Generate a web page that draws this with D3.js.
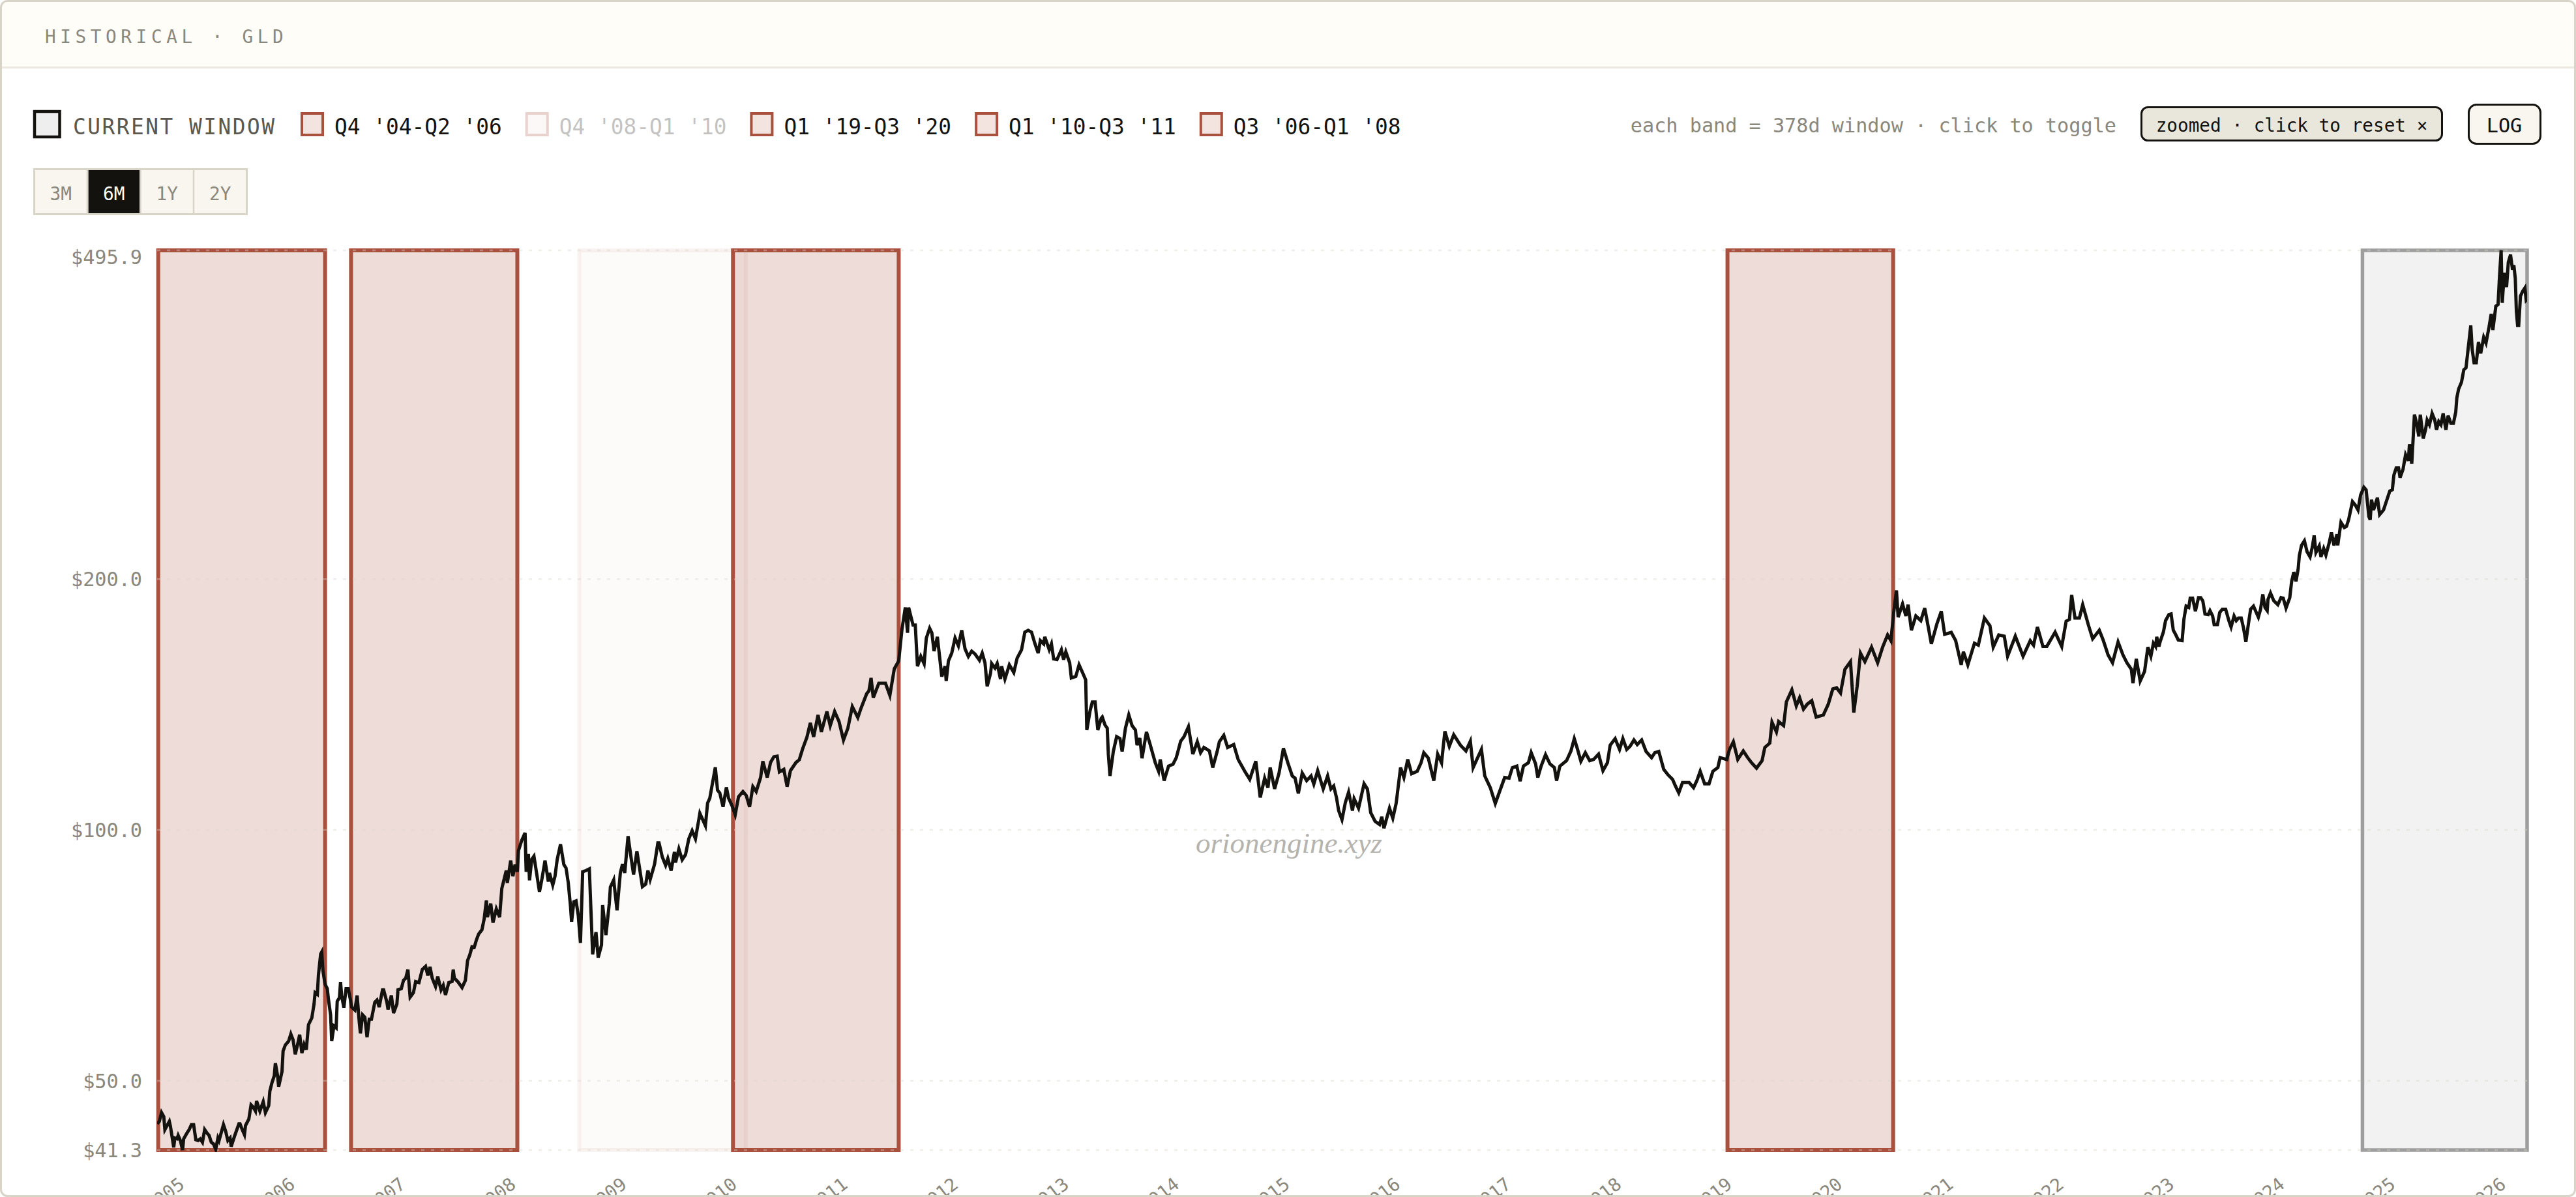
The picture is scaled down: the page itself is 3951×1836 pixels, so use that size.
<!DOCTYPE html>
<html lang="en">
<head>
  <meta charset="UTF-8">
  <title>Historical GLD</title>
  <script src="https://d3js.org/d3.v7.min.js"></script>
  <style>
    html, body { margin: 0; padding: 0; background: #fff; }
    svg { display: block; }
    text { font-family: "DejaVu Sans Mono", monospace; }
    .axis .domain, .axis line { display: none; }
  </style>
</head>
<body>
  <svg id="chart" width="3951" height="1836"></svg>
  <script>
    // dates are decimal years, closes are dollars
    const dates = [
      2004.88,2004.90,2004.92,2004.94,2004.95,2004.97,2004.99,2005.00,2005.03,2005.04,2005.06,2005.07,2005.09,2005.11,2005.12,2005.15,2005.17,2005.19,2005.21,2005.23,
      2005.25,2005.27,2005.29,2005.31,2005.33,2005.35,2005.37,2005.39,2005.41,2005.43,2005.44,2005.48,2005.50,2005.52,2005.54,2005.55,2005.58,2005.62,2005.63,2005.65,
      2005.67,2005.68,2005.71,2005.73,2005.75,2005.77,2005.78,2005.81,2005.84,2005.86,2005.89,2005.90,2005.92,2005.94,2005.95,2005.97,2005.98,2006.01,2006.02,2006.04,
      2006.07,2006.09,2006.11,2006.13,2006.15,2006.17,2006.19,2006.21,2006.23,2006.25,2006.28,2006.30,2006.31,2006.33,2006.34,2006.36,2006.37,2006.38,2006.40,2006.42,
      2006.43,2006.45,2006.46,2006.48,2006.50,2006.51,2006.53,2006.54,2006.55,2006.57,2006.59,2006.61,2006.63,2006.64,2006.67,2006.69,2006.71,2006.72,2006.74,2006.76,
      2006.78,2006.80,2006.82,2006.85,2006.87,2006.89,2006.92,2006.93,2006.96,2006.97,2007.00,2007.02,2007.05,2007.06,2007.09,2007.11,2007.13,2007.15,2007.17,2007.20,
      2007.22,2007.25,2007.28,2007.31,2007.33,2007.35,2007.37,2007.40,2007.42,2007.45,2007.47,2007.49,2007.52,2007.55,2007.56,2007.57,2007.60,2007.64,2007.67,2007.69,
      2007.71,2007.73,2007.75,2007.77,2007.79,2007.82,2007.84,2007.86,2007.87,2007.90,2007.92,2007.95,2007.98,2008.00,2008.04,2008.05,2008.08,2008.10,2008.12,2008.14,
      2008.15,2008.18,2008.21,2008.22,2008.24,2008.25,2008.27,2008.29,2008.32,2008.34,2008.36,2008.39,2008.42,2008.43,2008.46,2008.48,2008.50,2008.53,2008.56,2008.58,
      2008.60,2008.62,2008.63,2008.65,2008.67,2008.69,2008.71,2008.73,2008.76,2008.79,2008.82,2008.85,2008.87,2008.90,2008.91,2008.94,2008.97,2008.98,2009.01,2009.04,
      2009.07,2009.09,2009.11,2009.14,2009.17,2009.19,2009.22,2009.24,2009.27,2009.30,2009.32,2009.34,2009.38,2009.41,2009.42,2009.45,2009.48,2009.50,2009.53,2009.56,
      2009.57,2009.60,2009.63,2009.66,2009.69,2009.72,2009.75,2009.78,2009.79,2009.84,2009.86,2009.88,2009.93,2009.95,2009.97,2010.00,2010.03,2010.05,2010.08,2010.11,
      2010.14,2010.18,2010.21,2010.24,2010.27,2010.30,2010.34,2010.36,2010.40,2010.43,2010.46,2010.49,2010.51,2010.55,2010.58,2010.61,2010.66,2010.69,2010.72,2010.76,
      2010.79,2010.82,2010.86,2010.89,2010.94,2010.97,2011.01,2011.05,2011.09,2011.13,2011.17,2011.22,2011.25,2011.30,2011.32,2011.34,2011.36,2011.41,2011.47,2011.51,
      2011.55,2011.59,2011.62,2011.65,2011.67,2011.68,2011.72,2011.74,2011.76,2011.79,2011.82,2011.84,2011.87,2011.89,2011.91,2011.94,2011.98,2012.01,2012.02,2012.04,
      2012.07,2012.10,2012.13,2012.16,2012.19,2012.22,2012.25,2012.28,2012.32,2012.345,2012.37,2012.39,2012.42,2012.43,2012.46,2012.48,2012.51,2012.52,2012.55,2012.59,
      2012.63,2012.66,2012.70,2012.73,2012.76,2012.79,2012.82,2012.85,2012.87,2012.90,2012.91,2012.95,2012.97,2012.99,2013.02,2013.06,2013.08,2013.10,2013.135,2013.15,
      2013.19,2013.22,2013.255,2013.28,2013.29,2013.32,2013.34,2013.365,2013.39,2013.42,2013.43,2013.455,2013.475,2013.485,2013.50,2013.53,2013.56,2013.59,2013.61,2013.64,
      2013.67,2013.70,2013.73,2013.745,2013.77,2013.79,2013.83,2013.86,2013.91,2013.94,2013.955,2013.99,2014.03,2014.07,2014.10,2014.14,2014.17,2014.21,2014.25,2014.29,
      2014.32,2014.35,2014.40,2014.43,2014.47,2014.49,2014.53,2014.565,2014.62,2014.66,2014.72,2014.765,2014.82,2014.86,2014.90,2014.93,2014.95,2014.99,2015.03,2015.07,
      2015.11,2015.15,2015.175,2015.205,2015.24,2015.28,2015.32,2015.345,2015.38,2015.43,2015.47,2015.50,2015.525,2015.55,2015.57,2015.60,2015.63,2015.66,2015.695,2015.71,
      2015.75,2015.80,2015.83,2015.86,2015.90,2015.94,2015.96,2015.98,2016.03,2016.06,2016.09,2016.13,2016.16,2016.195,2016.23,2016.28,2016.315,2016.34,2016.38,2016.43,
      2016.465,2016.50,2016.53,2016.57,2016.61,2016.67,2016.72,2016.76,2016.785,2016.86,2016.89,2016.94,2016.985,2017.07,2017.11,2017.14,2017.18,2017.21,2017.24,2017.285,
      2017.31,2017.35,2017.37,2017.40,2017.44,2017.48,2017.52,2017.54,2017.57,2017.63,2017.67,2017.70,2017.73,2017.76,2017.80,2017.84,2017.875,2017.92,2017.96,2018.00,
      2018.025,2018.07,2018.11,2018.14,2018.175,2018.205,2018.24,2018.27,2018.31,2018.35,2018.40,2018.43,2018.465,2018.51,2018.55,2018.59,2018.616,2018.646,2018.68,2018.74,
      2018.78,2018.81,2018.84,2018.88,2018.92,2018.955,2019.00,2019.02,2019.08,2019.105,2019.14,2019.18,2019.23,2019.27,2019.305,2019.35,2019.40,2019.425,2019.47,2019.49,
      2019.53,2019.55,2019.595,2019.62,2019.67,2019.71,2019.74,2019.775,2019.81,2019.85,2019.89,2019.955,2020.00,2020.04,2020.075,2020.11,2020.15,2020.20,2020.23,2020.26,
      2020.29,2020.33,2020.39,2020.445,2020.49,2020.535,2020.565,2020.59,2020.615,2020.63,2020.67,2020.70,2020.72,2020.75,2020.79,2020.835,2020.87,2020.90,2020.93,2020.98,
      2021.02,2021.05,2021.11,2021.15,2021.20,2021.22,2021.26,2021.32,2021.355,2021.41,2021.46,2021.49,2021.54,2021.59,2021.62,2021.69,2021.76,2021.825,2021.855,2021.89,
      2021.94,2021.975,2022.05,2022.11,2022.15,2022.18,2022.20,2022.23,2022.27,2022.30,2022.35,2022.39,2022.45,2022.485,2022.53,2022.57,2022.62,2022.665,2022.70,2022.74,
      2022.755,2022.785,2022.82,2022.86,2022.89,2022.917,2022.94,2022.96,2022.97,2022.99,2023.00,2023.03,2023.05,2023.08,2023.10,2023.12,2023.14,2023.165,2023.20,2023.216,
      2023.236,2023.26,2023.273,2023.295,2023.32,2023.348,2023.368,2023.387,2023.407,2023.436,2023.452,2023.476,2023.49,2023.52,2023.54,2023.564,2023.594,2023.623,2023.643,2023.67,
      2023.69,2023.71,2023.735,2023.755,2023.777,2023.80,2023.82,2023.846,2023.89,2023.91,2023.93,2023.95,2023.97,2023.977,2024.00,2024.03,2024.066,2024.095,2024.115,2024.14,
      2024.174,2024.19,2024.21,2024.23,2024.25,2024.26,2024.28,2024.306,2024.33,2024.357,2024.377,2024.394,2024.41,2024.44,2024.455,2024.48,2024.50,2024.53,2024.55,2024.573,
      2024.60,2024.607,2024.636,2024.666,2024.686,2024.705,2024.715,2024.74,2024.764,2024.79,2024.813,2024.843,2024.863,2024.888,2024.90,2024.912,2024.93,2024.965,2024.985,2025.02,
      2025.05,2025.077,2025.10,2025.114,2025.135,2025.156,2025.17,2025.197,2025.22,2025.245,2025.255,2025.276,2025.29,2025.30,2025.32,2025.34,2025.353,2025.38,2025.40,2025.415,
      2025.436,2025.46,2025.484,2025.50,2025.52,2025.54,2025.56,2025.585,2025.605,2025.63,2025.653,2025.674,2025.684,2025.70,2025.726,2025.747,2025.767,2025.78,2025.81,2025.823,
      2025.84,2025.86,2025.88,2025.90,2025.927,2025.948,2025.975,2025.995,2026.01,2026.037,2026.057,2026.07,2026.085,2026.095,2026.113,2026.134,2026.15,2026.17,2026.188,2026.20,
      2026.213,2026.223,2026.234,2026.244,2026.26,2026.28,2026.30,2026.312,2026.32
    ];
    const closes = [
      44.4,44.7,45.8,45.3,43.7,44.2,44.7,44.1,41.6,42.7,42.6,43.0,42.4,41.3,42.6,43.3,43.7,44.3,44.3,42.5,
      42.4,42.6,42.2,43.7,43.3,43.0,42.2,42.0,41.4,42.7,42.4,44.3,43.5,42.4,42.7,41.7,42.9,44.4,44.4,43.7,
      43.1,44.2,45.0,46.8,46.5,46.0,47.3,46.0,47.2,45.8,46.7,48.6,49.8,50.7,52.5,50.7,49.2,51.3,54.3,55.2,
      55.8,56.9,56.0,53.8,55.2,56.8,54.0,55.3,54.5,58.4,59.5,61.8,63.8,63.5,67.0,71.0,71.4,67.9,65.3,64.5,
      62.7,60.0,55.8,58.2,57.9,62.3,62.9,65.7,63.3,61.2,64.5,64.5,62.5,61.3,60.8,63.3,58.7,57.0,60.0,59.6,
      56.4,59.3,59.3,62.1,62.5,61.3,64.3,64.3,62.1,60.9,63.3,60.3,61.8,64.3,64.5,66.0,66.4,68.0,63.0,63.8,
      65.8,65.6,68.0,68.6,66.9,68.5,66.4,64.9,66.7,64.3,65.1,63.4,65.6,65.8,68.0,66.4,65.8,64.7,66.0,69.7,
      70.8,72.4,72.3,73.8,75.0,75.9,78.2,82.3,78.6,81.6,77.4,80.4,78.6,85.1,89.4,86.4,91.9,88.0,90.9,89.1,
      94.4,97.2,99.2,89.1,93.6,87.0,92.2,93.0,87.7,84.3,87.0,91.9,86.7,88.8,85.9,88.0,92.2,96.1,90.9,90.0,
      86.4,81.0,77.6,82.0,82.2,79.0,73.2,89.1,89.4,89.8,70.9,75.4,70.3,72.8,81.3,74.8,81.6,85.4,87.1,80.1,
      88.8,91.0,88.8,98.3,92.1,88.4,94.3,90.7,85.5,86.1,89.4,87.2,91.0,96.5,96.5,92.8,90.7,92.4,89.4,94.1,
      91.4,94.9,92.1,93.4,97.6,99.8,97.6,102.8,104.7,101.2,107.7,109.2,118.9,111.6,110.8,106.6,112.5,109.2,107.0,104.3,
      109.6,111.2,110.0,106.6,112.7,111.2,115.6,120.9,115.6,120.5,122.4,122.6,117.4,118.2,112.7,117.8,120.5,121.4,125.1,129.3,
      134.4,129.3,137.4,131.1,138.7,133.4,138.7,134.9,128.2,132.5,140.6,136.4,140.1,145.7,146.8,152.2,144.1,150.0,150.0,145.0,
      156.1,159.5,174.3,184.9,172.4,184.9,176.1,176.1,157.2,161.5,158.3,169.9,174.6,172.4,163.9,170.5,152.8,157.2,150.9,159.5,
      163.0,169.9,166.3,173.6,164.9,161.5,163.9,162.6,159.8,163.0,158.7,148.7,154.1,158.4,156.4,158.4,151.7,157.2,151.7,157.8,
      154.5,160.7,164.5,172.7,173.6,172.7,167.5,163.0,168.7,167.2,170.5,164.5,167.2,160.4,160.1,164.5,160.1,163.6,158.7,152.2,
      152.8,157.8,154.1,151.4,131.8,139.1,142.4,142.4,131.8,136.1,136.6,133.6,132.5,123.3,116.1,124.2,129.4,128.7,124.2,132.5,
      137.4,133.4,131.8,126.4,128.9,121.9,131.1,127.1,120.4,117.6,121.5,114.6,119.3,119.9,122.1,127.8,129.4,133.0,123.3,127.6,
      123.8,125.6,124.4,118.8,124.2,127.6,129.9,125.6,126.6,121.5,117.6,115.0,120.9,109.4,115.4,112.4,118.8,112.0,117.0,125.3,
      120.4,116.1,115.4,110.6,117.0,114.6,116.1,113.5,117.8,112.0,116.1,112.0,112.9,109.4,105.5,102.9,107.8,111.0,105.5,109.0,
      106.2,113.6,112.0,104.9,102.4,101.5,103.7,100.5,106.2,103.3,107.6,118.8,115.6,121.5,116.8,117.6,120.4,123.8,122.0,114.6,
      123.3,120.4,131.3,126.0,130.1,126.4,124.4,127.8,118.8,124.9,116.1,112.4,107.6,115.6,115.4,118.8,119.3,114.4,119.3,120.4,
      123.8,120.0,115.6,119.3,123.1,120.0,118.8,114.6,119.3,121.1,124.4,128.7,124.9,120.9,123.8,121.1,121.5,123.3,117.8,120.4,
      126.4,128.7,124.9,128.7,124.9,126.0,128.2,126.6,128.2,124.2,122.1,123.8,124.2,118.2,116.4,115.0,112.9,110.8,114.0,114.0,
      112.4,114.6,117.6,113.6,113.6,117.6,118.8,122.1,121.5,124.9,127.6,121.5,124.4,122.1,120.4,118.6,121.1,125.6,127.1,134.7,
      131.1,134.9,133.4,142.4,147.3,140.9,144.1,139.6,141.6,142.9,136.6,137.4,141.6,147.6,148.1,146.0,155.9,159.2,138.3,148.7,
      163.0,159.2,165.7,158.7,165.7,171.4,168.7,182.3,193.8,180.0,186.7,180.6,186.3,173.6,180.6,178.3,184.6,175.8,167.2,176.7,
      183.0,171.7,172.6,168.7,157.8,163.6,157.8,167.5,166.6,179.6,175.8,165.7,171.4,170.8,161.6,170.8,161.6,168.7,166.6,175.2,
      166.0,166.0,172.7,166.0,178.0,178.9,191.4,179.6,179.6,186.3,176.4,169.6,173.6,169.0,162.1,158.7,168.1,162.1,158.7,155.9,
      150.0,160.4,150.9,155.0,165.7,161.6,167.5,166.0,170.5,166.0,168.1,172.7,178.3,181.3,181.6,173.6,171.7,169.0,168.7,178.9,
      185.6,184.9,189.7,189.7,183.0,190.0,190.0,188.3,181.6,181.3,183.3,180.6,176.4,176.4,182.3,184.0,184.0,178.3,175.2,180.6,
      178.3,179.6,179.6,174.9,168.1,176.7,184.0,185.6,180.0,184.0,191.7,184.9,183.3,189.0,192.4,188.3,186.3,190.0,189.7,184.6,
      190.0,198.4,203.9,198.7,205.8,213.3,219.5,222.3,215.7,212.6,218.4,225.6,215.3,219.2,212.6,217.6,213.7,221.1,227.6,219.5,
      226.4,219.5,233.9,230.6,231.4,235.6,239.0,247.7,245.5,242.0,252.2,257.7,255.9,237.7,235.6,249.0,242.0,250.4,239.0,242.0,
      248.8,255.0,256.0,266.5,271.9,271.9,264.7,271.0,282.0,277.3,290.3,275.0,297.7,315.0,307.5,296.6,315.0,295.0,302.0,310.3,
      306.3,316.0,310.3,302.0,309.0,306.3,316.0,302.0,314.0,307.5,307.5,317.2,330.0,338.0,344.5,356.5,358.5,371.5,403.0,377.0,
      363.5,363.5,385.0,373.0,390.0,384.0,401.0,416.0,398.0,425.0,427.0,460.6,495.9,429.0,466.0,448.0,480.0,490.0,470.0,476.0,
      459.0,419.0,403.0,403.0,437.0,443.0,447.0,432.0,433.0
    ];

    // comparison windows, same order as the legend after the current window
    const bandLabels = ["Q4 '04-Q2 '06", "Q4 '08-Q1 '10", "Q1 '19-Q3 '20", "Q1 '10-Q3 '11", "Q3 '06-Q1 '08"];
    const bandStarts = [2004.89, 2008.70, 2019.087, 2010.09, 2006.635];
    const bandEnds = [2006.40, 2010.207, 2020.585, 2011.59, 2008.14];
    const bandOn = [true, false, true, true, true];
    const currentStart = 2024.83;
    const currentEnd = 2026.32;

    const yTicks = [41.3, 50, 100, 200, 495.9];
    const ranges = ["3M", "6M", "1Y", "2Y"];
    const activeRange = "6M";

    const ink = "#14120e";
    const muted = "#8a877c";
    const rust = "#a9503f";

    // decimal year to a real date
    function toDate(v) {
      const y = Math.floor(v);
      const a = new Date(y, 0, 1), b = new Date(y + 1, 0, 1);
      return new Date(+a + (v - y) * (b - a));
    }

    const svg = d3.select("#chart");
    const defs = svg.append("defs");

    const x = d3.scaleTime().domain([toDate(2004.88), toDate(2026.32)]).range([241, 3876]);
    const y = d3.scaleLog().domain([41.3, 495.9]).range([1764, 384]);

    defs.append("clipPath").attr("id", "card").append("rect")
      .attr("x", 1.5).attr("y", 1.5).attr("width", 3948).attr("height", 1833).attr("rx", 10);
    defs.append("clipPath").attr("id", "plot").append("rect")
      .attr("x", 241).attr("y", 383).attr("width", 3635).attr("height", 1384);

    // header strip
    svg.append("rect").attr("clip-path", "url(#card)")
      .attr("width", 3951).attr("height", 103).attr("fill", "#fffdf8");
    svg.append("rect").attr("y", 102).attr("width", 3951).attr("height", 3).attr("fill", "#ece8df");
    svg.append("text").attr("x", 69).attr("y", 66)
      .attr("font-size", 27.7).attr("letter-spacing", 6.6).attr("fill", muted)
      .text("HISTORICAL · GLD");

    // legend
    const legend = svg.append("g");
    legend.append("rect").attr("x", 53).attr("y", 171).attr("width", 38.5).attr("height", 39)
      .attr("fill", "#eeeeee").attr("stroke", ink).attr("stroke-width", 4.5);
    legend.append("text").attr("x", 112).attr("y", 206)
      .attr("font-size", 32.8).attr("letter-spacing", 2.5).attr("fill", "#5b584f")
      .text("CURRENT WINDOW");

    const item = legend.selectAll(".item").data(bandLabels).enter().append("g")
      .attr("class", "item")
      .attr("transform", (d, i) => `translate(${461 + i * 344.7},0)`)
      .attr("opacity", (d, i) => bandOn[i] ? 1 : 0.25);
    item.append("rect").attr("x", 2).attr("y", 174).attr("width", 32).attr("height", 33)
      .attr("fill", "#f3e4e0").attr("stroke", rust).attr("stroke-width", 4);
    item.append("text").attr("x", 52).attr("y", 206)
      .attr("font-size", 32.8).attr("fill", ink).text(d => d);

    // range buttons
    const rangeX = d3.scaleBand().domain(ranges).range([52.5, 378.5]);
    svg.append("rect").attr("x", 52.5).attr("y", 259.5).attr("width", 326).attr("height", 69)
      .attr("fill", "#f9f6ef").attr("stroke", "#d9d4c8").attr("stroke-width", 3);
    const btn = svg.selectAll(".btn").data(ranges).enter().append("g").attr("class", "btn");
    btn.filter(d => d === activeRange).append("rect")
      .attr("x", d => rangeX(d) + 1.5).attr("y", 261)
      .attr("width", rangeX.bandwidth() - 3).attr("height", 66).attr("fill", ink);
    btn.filter((d, i) => i > 0).append("line")
      .attr("x1", d => rangeX(d)).attr("x2", d => rangeX(d)).attr("y1", 260).attr("y2", 328)
      .attr("stroke", "#d9d4c8").attr("stroke-width", 2.5);
    btn.append("text")
      .attr("x", d => rangeX(d) + rangeX.bandwidth() / 2).attr("y", 307)
      .attr("text-anchor", "middle").attr("font-size", 27.7)
      .attr("fill", d => d === activeRange ? "#fff" : muted).text(d => d);

    // right hand controls
    svg.append("text").attr("x", 3246).attr("y", 203).attr("text-anchor", "end")
      .attr("font-size", 30.2).attr("fill", muted)
      .text("each band = 378d window · click to toggle");
    svg.append("rect").attr("x", 3284.5).attr("y", 164.5).attr("width", 461).attr("height", 51).attr("rx", 10)
      .attr("fill", "#e9e6dc").attr("stroke", ink).attr("stroke-width", 3);
    svg.append("text").attr("x", 3515).attr("y", 202).attr("text-anchor", "middle")
      .attr("font-size", 27.7).attr("fill", ink).text("zoomed · click to reset ×");
    svg.append("rect").attr("x", 3786.5).attr("y", 160.5).attr("width", 110).attr("height", 60).attr("rx", 12)
      .attr("fill", "#f9f6ef").attr("stroke", ink).attr("stroke-width", 3);
    svg.append("text").attr("x", 3841).attr("y", 203).attr("text-anchor", "middle")
      .attr("font-size", 30.2).attr("fill", ink).text("LOG");

    // bands, the switched off one is barely there
    const bands = svg.append("g");
    bands.selectAll(".band").data(bandLabels).enter().append("rect")
      .attr("class", "band")
      .attr("x", (d, i) => x(toDate(bandStarts[i])))
      .attr("width", (d, i) => x(toDate(bandEnds[i])) - x(toDate(bandStarts[i])))
      .attr("y", y(495.9)).attr("height", y(41.3) - y(495.9))
      .attr("fill", "#a9503f").attr("fill-opacity", (d, i) => bandOn[i] ? 0.2 : 0.025)
      .attr("stroke", rust).attr("stroke-opacity", (d, i) => bandOn[i] ? 1 : 0.07)
      .attr("stroke-width", 6);
    bands.append("rect")
      .attr("x", x(toDate(currentStart)))
      .attr("width", x(toDate(currentEnd)) - x(toDate(currentStart)))
      .attr("y", y(495.9)).attr("height", y(41.3) - y(495.9))
      .attr("fill", "#f2f2f2").attr("stroke", "#9e9e9e").attr("stroke-width", 5.5);

    // dotted grid
    svg.append("g").selectAll("line").data(yTicks).enter().append("line")
      .attr("x1", 241).attr("x2", 3876)
      .attr("y1", d => y(d)).attr("y2", d => y(d))
      .attr("stroke", "#d9d4c8").attr("stroke-opacity", 0.4)
      .attr("stroke-width", 2.5).attr("stroke-dasharray", "5 10");

    // axes
    const yAxis = svg.append("g").attr("class", "axis")
      .attr("transform", "translate(218,0)")
      .call(d3.axisLeft(y).tickValues(yTicks).tickSize(0).tickPadding(0).tickFormat(d3.format("$.1f")));
    yAxis.selectAll("text").attr("font-size", 30.2).attr("fill", muted)
      .attr("font-family", "DejaVu Sans Mono")
      .attr("dy", d => d === 495.9 ? "0.68em" : "0.35em");

    const xClip = svg.append("g").attr("clip-path", "url(#card)");
    const xAxis = xClip.append("g").attr("class", "axis")
      .attr("transform", `translate(0,${y(41.3)})`)
      .call(d3.axisBottom(x).ticks(d3.timeYear.every(1)).tickSize(0).tickFormat(d3.timeFormat("%Y")));
    xAxis.selectAll("text").attr("font-size", 27.7).attr("fill", muted)
      .attr("font-family", "DejaVu Sans Mono")
      .attr("text-anchor", "end").attr("y", 0).attr("dy", 0)
      .attr("transform", "translate(23,56) rotate(-38)");

    // watermark
    svg.append("text").attr("x", 1977).attr("y", 1308).attr("text-anchor", "middle")
      .attr("font-size", 45).attr("font-style", "italic").attr("fill", "#b5b3ad")
      .style("font-family", "'Liberation Serif', serif")
      .text("orionengine.xyz");

    // price line
    const line = d3.line().x((d, i) => x(toDate(dates[i]))).y(d => y(d));
    svg.append("g").attr("clip-path", "url(#plot)").append("path")
      .datum(closes)
      .attr("fill", "none").attr("stroke", ink).attr("stroke-width", 5)
      .attr("stroke-linejoin", "miter").attr("d", line);

    // card outline
    svg.append("rect").attr("x", 1.5).attr("y", 1.5).attr("width", 3948).attr("height", 1833).attr("rx", 10)
      .attr("fill", "none").attr("stroke", "#d9d4c8").attr("stroke-width", 3);
  </script>
</body>
</html>
